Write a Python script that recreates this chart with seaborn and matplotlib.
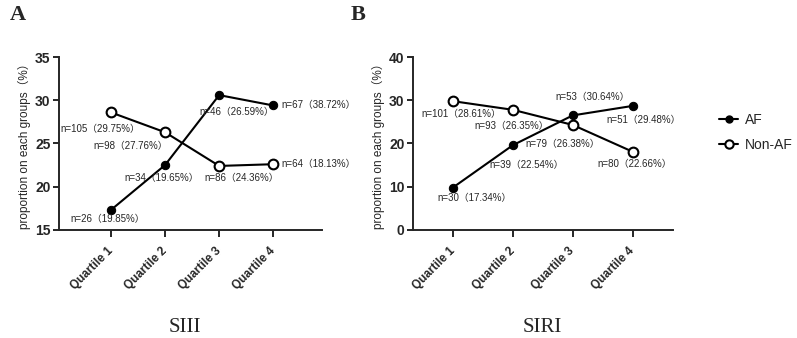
import numpy as np
import pandas as pd
import matplotlib
matplotlib.use("Agg")
import matplotlib.pyplot as plt
import seaborn as sns
from matplotlib.lines import Line2D
from matplotlib.transforms import ScaledTranslation

# ==========================================================
# DATA
# ==========================================================

quartiles = ["Quartile 1", "Quartile 2", "Quartile 3", "Quartile 4"]

siii_af = [17.3, 22.5, 30.6, 29.4]
siii_non_af = [28.6, 26.3, 22.4, 22.6]
siii_af_labels = ["n=26（19.85%）", "n=34（19.65%）", "n=46（26.59%）", "n=67（38.72%）"]
siii_non_af_labels = ["n=105（29.75%）", "n=98（27.76%）", "n=86（24.36%）", "n=64（18.13%）"]

siri_af = [9.8, 19.6, 26.5, 28.7]
siri_non_af = [29.8, 27.8, 24.3, 18.1]
siri_af_labels = ["n=30（17.34%）", "n=39（22.54%）", "n=53（30.64%）", "n=51（29.48%）"]
siri_non_af_labels = ["n=101（28.61%）", "n=93（26.35%）", "n=79（26.38%）", "n=80（22.66%）"]

# label offsets in pixels (dx, dy) relative to each point
siii_af_off = [(-3, -9), (-3, -13), (18, -17), (45, 0)]
siii_non_off = [(-11, -17), (-34, -14), (22, -12), (45, 0)]
siri_af_off = [(22, -11), (14, -20), (20, 18), (11, -14)]
siri_non_off = [(8, -13), (-1, -16), (-10, -19), (2, -12)]

# ==========================================================
# STYLE
# ==========================================================

sns.set_style("ticks")
plt.rcParams["font.family"] = ["Liberation Sans", "Noto Sans CJK SC"]
plt.rcParams["axes.linewidth"] = 1.4

fig = plt.figure(figsize=(7.97, 3.38), dpi=100)
ax_a = fig.add_axes([0.074, 0.320, 0.330, 0.511])
ax_b = fig.add_axes([0.518, 0.320, 0.326, 0.511])

x = np.arange(len(quartiles))


def draw_panel(ax, af, non_af, af_lab, non_lab, af_off, non_off, ylim, yticks, xlim,
               title, title_x):
    df = pd.DataFrame({"x": x, "AF": af, "Non-AF": non_af})
    sns.lineplot(data=df, x="x", y="AF", ax=ax, color="black", lw=1.5,
                 marker="o", markersize=6, markeredgecolor="black")
    sns.lineplot(data=df, x="x", y="Non-AF", ax=ax, color="black", lw=1.5,
                 marker="o", markersize=7, markerfacecolor="white",
                 markeredgecolor="black", markeredgewidth=1.5)
    for xi, yi, lab, off in zip(x, af, af_lab, af_off):
        ax.annotate(lab, (xi, yi), xytext=off, textcoords="offset pixels",
                    ha="center", va="center", fontsize=7)
    for xi, yi, lab, off in zip(x, non_af, non_lab, non_off):
        ax.annotate(lab, (xi, yi), xytext=off, textcoords="offset pixels",
                    ha="center", va="center", fontsize=7)
    ax.set_xlim(*xlim)
    ax.set_ylim(*ylim)
    ax.set_yticks(yticks)
    ax.set_xticks(x)
    ax.set_xticklabels(quartiles, rotation=45, ha="right", va="center",
                       rotation_mode="anchor", fontsize=8.5, fontweight="bold")
    shift = ScaledTranslation(9 / 100, 0, fig.dpi_scale_trans)
    for lbl in ax.get_xticklabels():
        lbl.set_transform(lbl.get_transform() + shift)
    ax.tick_params(axis="y", labelsize=10, width=1.4, length=4, pad=2)
    ax.tick_params(axis="x", width=1.4, length=5, pad=9)
    for t in ax.get_yticklabels():
        t.set_fontweight("bold")
    ax.set_xlabel("")
    ax.set_ylabel("proportion on each groups（%）", fontsize=8.5, labelpad=3)
    sns.despine(ax=ax)
    ax.text(title_x, -0.565, title, transform=ax.transAxes, ha="center", va="center",
            fontsize=15, family="Liberation Serif")


draw_panel(ax_a, siii_af, siii_non_af, siii_af_labels, siii_non_af_labels,
           siii_af_off, siii_non_off, (15, 35), [15, 20, 25, 30, 35], (-0.96, 3.9),
           "SIII", 0.48)
draw_panel(ax_b, siri_af, siri_non_af, siri_af_labels, siri_non_af_labels,
           siri_af_off, siri_non_off, (0, 40), [0, 10, 20, 30, 40], (-0.67, 3.67),
           "SIRI", 0.5)

# legend
handles = [
    Line2D([], [], color="black", lw=1.5, marker="o", markersize=5),
    Line2D([], [], color="black", lw=1.5, marker="o", markersize=6,
           markerfacecolor="white", markeredgewidth=1.5),
]
fig.legend(handles, ["AF", "Non-AF"], loc="center left", bbox_to_anchor=(0.902, 0.608),
           frameon=False, fontsize=10, handlelength=1.4, handletextpad=0.5,
           labelspacing=0.8, borderpad=0, borderaxespad=0)

fig.text(0.012, 0.955, "A", fontsize=16, fontweight="bold", family="Liberation Serif",
         va="center")
fig.text(0.440, 0.955, "B", fontsize=16, fontweight="bold", family="Liberation Serif",
         va="center")

fig.savefig("out.png", dpi=100)
